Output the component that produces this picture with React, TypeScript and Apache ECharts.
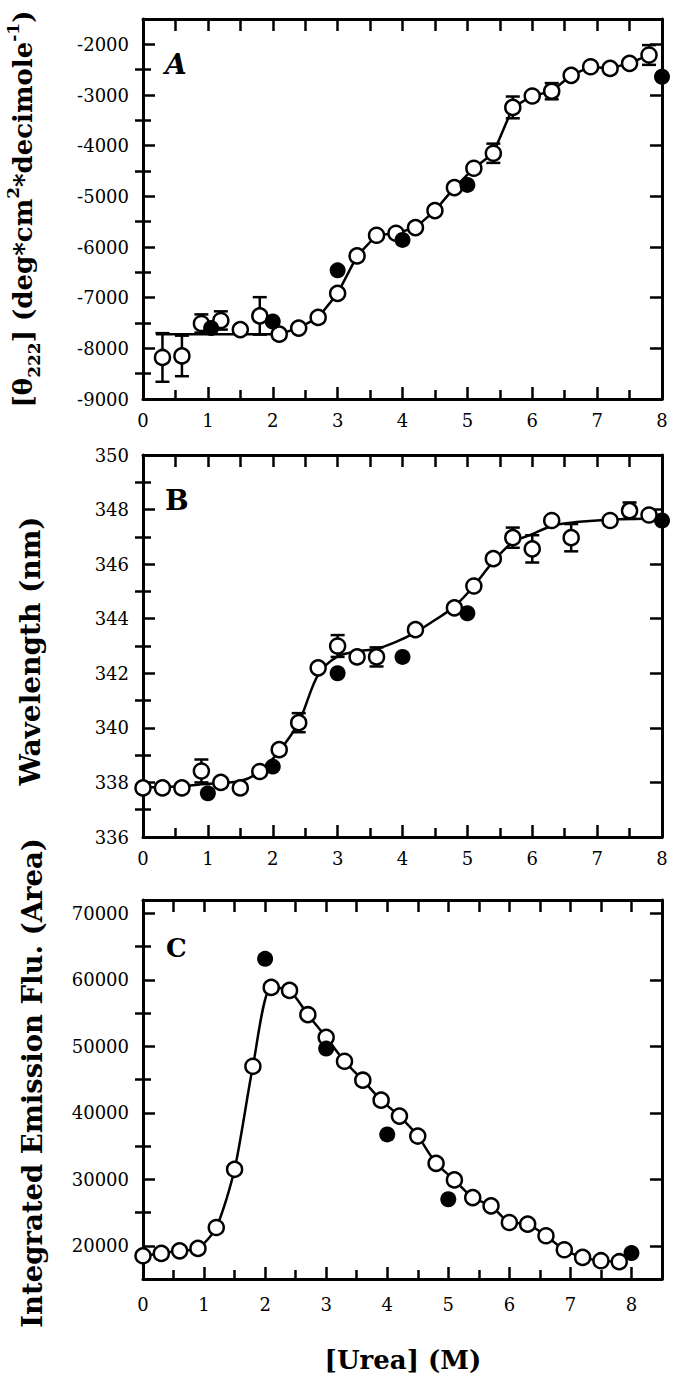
import React, { useEffect, useRef } from "react";
import * as echarts from "echarts";

// ---------- tick values ----------
const X_MAJOR = [0, 1, 2, 3, 4, 5, 6, 7, 8];
const X_MINOR = [0.5, 1.5, 2.5, 3.5, 4.5, 5.5, 6.5, 7.5];
const Y_MAJOR_A = [-9000, -8000, -7000, -6000, -5000, -4000, -3000, -2000];
const Y_MINOR_A = [-8500, -7500, -6500, -5500, -4500, -3500, -2500];
const Y_MAJOR_B = [336, 338, 340, 342, 344, 346, 348, 350];
const Y_MINOR_B = [337, 339, 341, 343, 345, 347, 349];
const Y_MAJOR_C = [20000, 30000, 40000, 50000, 60000, 70000];
const Y_MINOR_C = [25000, 35000, 45000, 55000, 65000];

// ---------- panel A : CD [theta]222 ----------
const openA: number[][] = [
  [0.3, -8180], [0.6, -8150], [0.9, -7510], [1.2, -7450], [1.5, -7630], [1.8, -7360],
  [2.1, -7720], [2.4, -7600], [2.7, -7390], [3.0, -6915], [3.3, -6176], [3.6, -5768],
  [3.9, -5728], [4.2, -5617], [4.5, -5282], [4.8, -4828], [5.1, -4446], [5.4, -4150],
  [5.7, -3245], [6.0, -3020], [6.3, -2925], [6.6, -2612], [6.9, -2442], [7.2, -2475],
  [7.5, -2375], [7.8, -2210],
];
const filledA: number[][] = [
  [1.05, -7600], [2.0, -7470], [3.0, -6460], [4.0, -5860], [5.0, -4775], [8.0, -2640],
];
// [x, +/- error]
const errA: number[][] = [
  [0.3, 480], [0.6, 400], [0.9, 180], [1.2, 180], [1.8, 370], [5.4, 190], [5.7, 215],
  [6.3, 160], [7.8, 195],
];
const fitA: number[][] = [
  [0.2, -7720], [2.1, -7720], [2.4, -7600], [2.7, -7390], [3.0, -6915], [3.3, -6176],
  [3.6, -5768], [3.9, -5728], [4.2, -5617], [4.5, -5282], [4.8, -4828], [5.1, -4446],
  [5.4, -4150], [5.7, -3245], [6.0, -3020], [6.3, -2925], [6.6, -2612], [6.9, -2442],
  [7.2, -2475], [7.5, -2375], [7.8, -2210],
];

// ---------- panel B : emission wavelength ----------
const openB: number[][] = [
  [0, 337.8], [0.3, 337.8], [0.6, 337.8], [0.9, 338.42], [1.2, 338.0], [1.5, 337.8],
  [1.8, 338.4], [2.1, 339.2], [2.4, 340.19], [2.7, 342.2], [3.0, 343.0], [3.3, 342.6],
  [3.6, 342.6], [4.2, 343.6], [4.8, 344.4], [5.1, 345.2], [5.4, 346.2], [5.7, 346.97],
  [6.0, 346.56], [6.3, 347.6], [6.6, 346.97], [7.2, 347.6], [7.5, 347.96], [7.8, 347.8],
];
const filledB: number[][] = [
  [1.0, 337.6], [2.0, 338.58], [3.0, 342.0], [4.0, 342.6], [5.0, 344.2], [8.0, 347.6],
];
const errB: number[][] = [
  [0.9, 0.42], [2.4, 0.35], [3.0, 0.4], [3.6, 0.35], [5.7, 0.37], [6.0, 0.5], [6.6, 0.5],
  [7.5, 0.3],
];
const fitB: number[][] = [
  [0, 337.82], [0.5, 337.85], [1.0, 337.95], [1.5, 338.05], [1.8, 338.4], [2.1, 339.15],
  [2.4, 340.2], [2.7, 341.95], [3.0, 342.62], [3.3, 342.8], [3.6, 342.9], [3.9, 343.15],
  [4.2, 343.5], [4.5, 343.95], [4.8, 344.45], [5.1, 345.2], [5.4, 346.1], [5.7, 346.8],
  [6.0, 347.1], [6.3, 347.4], [6.6, 347.52], [7.0, 347.6], [7.5, 347.65], [7.8, 347.66],
  [8.0, 347.6],
];

// ---------- panel C : integrated emission ----------
const openC: number[][] = [
  [0, 18490], [0.3, 18850], [0.6, 19240], [0.9, 19600], [1.2, 22750], [1.5, 31500],
  [1.8, 47000], [2.1, 58850], [2.4, 58400], [2.7, 54750], [3.0, 51350], [3.3, 47750],
  [3.6, 44900], [3.9, 41900], [4.2, 39500], [4.5, 36500], [4.8, 32400], [5.1, 29900],
  [5.4, 27250], [5.7, 26000], [6.0, 23500], [6.3, 23250], [6.6, 21500], [6.9, 19400],
  [7.2, 18250], [7.5, 17750], [7.8, 17600],
];
const filledC: number[][] = [
  [2.0, 63150], [3.0, 49650], [4.0, 36750], [5.0, 27000], [8.0, 18900],
];

const FONT = "DejaVu Serif";
const TICK_FS = 18;

function errData(open: number[][], err: number[][]) {
  return err.map(([x, e]) => {
    const p = open.find((d) => Math.abs(d[0] - x) < 1e-6);
    const y = p ? p[1] : 0;
    return [x, y - e, y + e];
  });
}

const plain = (v: number) => String(v);

function xAxes(grid: number, min: number, max: number, labelMargin: number) {
  const base = { gridIndex: grid, type: "value", min, max, splitLine: { show: false } };
  const line = { show: true, onZero: false, lineStyle: { color: "#000", width: 3 } };
  return [
    {
      ...base, position: "bottom", axisLine: line,
      axisTick: { show: true, inside: true, length: 12, customValues: X_MAJOR, lineStyle: { color: "#000", width: 2.5 } },
      axisLabel: { show: true, customValues: X_MAJOR, formatter: plain, margin: labelMargin, color: "#000", fontFamily: FONT, fontSize: TICK_FS },
    },
    {
      ...base, position: "bottom", axisLine: { show: false },
      axisTick: { show: true, inside: true, length: 9, customValues: X_MINOR, lineStyle: { color: "#000", width: 2.5 } },
      axisLabel: { show: false },
    },
    {
      ...base, position: "top", axisLine: line,
      axisTick: { show: true, inside: true, length: 12, customValues: X_MAJOR, lineStyle: { color: "#000", width: 2.5 } },
      axisLabel: { show: false },
    },
    {
      ...base, position: "top", axisLine: { show: false },
      axisTick: { show: true, inside: true, length: 12, customValues: X_MINOR, lineStyle: { color: "#000", width: 2.5 } },
      axisLabel: { show: false },
    },
  ];
}

function yAxes(grid: number, min: number, max: number, major: number[], minor: number[]) {
  const base = { gridIndex: grid, type: "value", min, max, splitLine: { show: false } };
  const line = { show: true, onZero: false, lineStyle: { color: "#000", width: 3 } };
  return [
    {
      ...base, position: "left", axisLine: line,
      axisTick: { show: true, inside: true, length: 12, customValues: major, lineStyle: { color: "#000", width: 2.5 } },
      axisLabel: { show: true, customValues: major, formatter: plain, margin: 14, color: "#000", fontFamily: FONT, fontSize: TICK_FS },
    },
    {
      ...base, position: "left", axisLine: { show: false },
      axisTick: { show: true, inside: true, length: 8, customValues: minor, lineStyle: { color: "#000", width: 2.5 } },
      axisLabel: { show: false },
    },
    {
      ...base, position: "right", axisLine: line,
      axisTick: { show: true, inside: true, length: 12, customValues: major, lineStyle: { color: "#000", width: 2.5 } },
      axisLabel: { show: false },
    },
    {
      ...base, position: "right", axisLine: { show: false },
      axisTick: { show: true, inside: true, length: 8, customValues: minor, lineStyle: { color: "#000", width: 2.5 } },
      axisLabel: { show: false },
    },
  ];
}

function errSeries(grid: number, data: number[][]) {
  return {
    type: "custom",
    xAxisIndex: grid * 4,
    yAxisIndex: grid * 4,
    z: 1,
    silent: true,
    data,
    renderItem: (params: any, api: any) => {
      const x = api.value(0);
      const lo = api.coord([x, api.value(1)]);
      const hi = api.coord([x, api.value(2)]);
      const w = 7;
      const st = { stroke: "#000", lineWidth: 2.5 };
      return {
        type: "group",
        children: [
          { type: "line", shape: { x1: hi[0], y1: hi[1], x2: lo[0], y2: lo[1] }, style: st },
          { type: "line", shape: { x1: hi[0] - w, y1: hi[1], x2: hi[0] + w, y2: hi[1] }, style: st },
          { type: "line", shape: { x1: lo[0] - w, y1: lo[1], x2: lo[0] + w, y2: lo[1] }, style: st },
        ],
      };
    },
  };
}

function openScatter(grid: number, data: number[][], z: number) {
  return {
    type: "scatter", xAxisIndex: grid * 4, yAxisIndex: grid * 4, z, data,
    symbol: "circle", symbolSize: 15,
    itemStyle: { color: "#fff", borderColor: "#000", borderWidth: 2.5, opacity: 1 },
  };
}
function filledScatter(grid: number, data: number[][], z: number) {
  return {
    type: "scatter", xAxisIndex: grid * 4, yAxisIndex: grid * 4, z, data,
    symbol: "circle", symbolSize: 16,
    itemStyle: { color: "#000", opacity: 1 },
  };
}
function fitLine(grid: number, data: number[][], smooth: number | boolean, z: number) {
  return {
    type: "line", xAxisIndex: grid * 4, yAxisIndex: grid * 4, z, data, smooth,
    symbol: "none", lineStyle: { color: "#000", width: 2.5 },
  };
}

export default function App() {
  const ref = useRef<HTMLDivElement>(null);
  useEffect(() => {
    if (!ref.current) return;
    const chart = echarts.init(ref.current, null, { renderer: "svg" });
    const titleRich = {
      m: { fontFamily: FONT, fontWeight: "bold", fontSize: 26, lineHeight: 38, color: "#000" },
      sub: { fontFamily: FONT, fontWeight: "bold", fontSize: 17, lineHeight: 17, verticalAlign: "bottom", color: "#000" },
      sup: { fontFamily: FONT, fontWeight: "bold", fontSize: 17, lineHeight: 17, verticalAlign: "top", color: "#000" },
    };
    const textStyle = (text: string, font: string, align = "center") => ({
      text, fill: "#000", font, align, verticalAlign: "middle",
      textAlign: align, textVerticalAlign: "middle",
    });
    const option: any = {
      animation: false,
      backgroundColor: "#fff",
      grid: [
        { left: 143, right: 13, top: 19, height: 380 },
        { left: 143, right: 13, top: 455, height: 382 },
        { left: 143, right: 13, top: 900, height: 379 },
      ],
      xAxis: [
        ...xAxes(0, 0, 8, 12),
        ...xAxes(1, 0, 8, 12),
        ...xAxes(2, 0, 8.5, 16),
      ],
      yAxis: [
        ...yAxes(0, -9000, -1500, Y_MAJOR_A, Y_MINOR_A),
        ...yAxes(1, 336, 350, Y_MAJOR_B, Y_MINOR_B),
        ...yAxes(2, 15000, 72000, Y_MAJOR_C, Y_MINOR_C),
      ],
      series: [
        errSeries(0, errData(openA, errA)),
        fitLine(0, fitA, false, 2),
        openScatter(0, openA, 3),
        filledScatter(0, filledA, 4),

        errSeries(1, errData(openB, errB)),
        fitLine(1, fitB, 0.3, 2),
        filledScatter(1, filledB, 3),
        openScatter(1, openB, 4),

        {
          type: "line", xAxisIndex: 8, yAxisIndex: 8, z: 3, data: openC, smooth: 0.25,
          symbol: "circle", symbolSize: 15, showAllSymbol: true,
          lineStyle: { color: "#000", width: 2.5 },
          itemStyle: { color: "#fff", borderColor: "#000", borderWidth: 2.5 },
        },
        filledScatter(2, filledC, 4),
      ],
      graphic: [
        {
          type: "text", x: 23, y: 209, rotation: Math.PI / 2, z: 10,
          style: {
            text: "{m|[θ}{sub|222}{m|] (deg*cm}{sup|2}{m|*decimole}{sup|-1}{m|)}",
            rich: titleRich, align: "center", verticalAlign: "middle",
            textAlign: "center", textVerticalAlign: "middle",
          },
        },
        { type: "text", x: 30, y: 651, rotation: Math.PI / 2, z: 10, style: textStyle("Wavelength (nm)", `bold 28px "${FONT}"`) },
        { type: "text", x: 32, y: 1083, rotation: Math.PI / 2, z: 10, style: textStyle("Integrated Emission Flu. (Area)", `bold 27.5px "${FONT}"`) },
        { type: "text", x: 403, y: 1360, z: 10, style: textStyle("[Urea] (M)", `bold 26px "${FONT}"`) },
        { type: "text", x: 165, y: 64, z: 10, style: textStyle("A", `italic bold 28px "${FONT}"`, "left") },
        { type: "text", x: 165, y: 500, z: 10, style: textStyle("B", `bold 28px "${FONT}"`, "left") },
        { type: "text", x: 166, y: 948, z: 10, style: textStyle("C", `bold 26px "${FONT}"`, "left") },
      ],
    };
    chart.setOption(option);
    return () => chart.dispose();
  }, []);
  return (
    <div
      ref={ref}
      style={{ position: "fixed", left: 0, top: 0, width: 675, height: 1386, background: "#fff" }}
    />
  );
}
